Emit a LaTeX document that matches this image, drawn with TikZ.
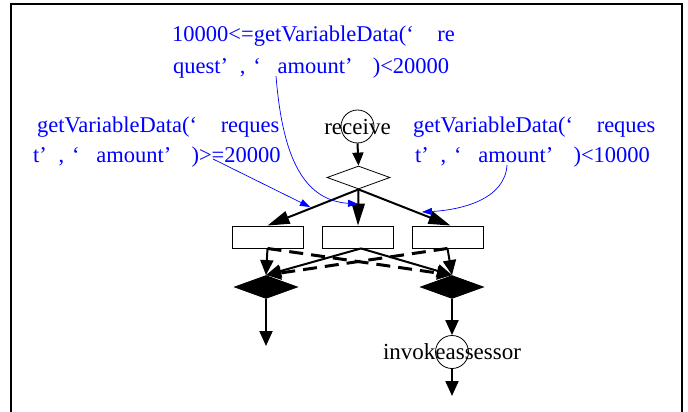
\documentclass[tikz,border=0pt]{standalone}
\usepackage{fontspec}
\setmainfont{Liberation Serif}
\usetikzlibrary{arrows.meta,shapes.geometric,calc}
\newcommand\qLgap{‘\hspace{1.05em}}
\newcommand\qmid{’\hspace{0.52em},\hspace{0.35em}‘\hspace{0.74em}}
\newcommand\qRgap{’\hspace{0.9em}}
\begin{document}
\begin{tikzpicture}[x=1pt,y=-1pt,
  gwopen/.style={diamond, draw, line width=0.8pt, minimum width=63pt, minimum height=23pt, inner sep=0pt},
  gwfill/.style={diamond, draw, fill=black, line width=0.8pt, minimum width=63pt, minimum height=23pt, inner sep=0pt},
  taskbox/.style={rectangle, draw, line width=0.9pt, minimum width=71pt, minimum height=22pt, inner sep=0pt},
  evt/.style={circle, draw, line width=0.8pt, minimum size=33pt, inner sep=0pt},
  evtxt/.style={inner sep=0pt, font=\fontsize{23}{27}\selectfont},
  flow/.style={line width=2pt, -{Triangle[length=15pt,width=13pt]}},
  longflow/.style={line width=2pt, -{Triangle[length=22pt,width=13pt]}},
  dflow/.style={line width=3pt, dash pattern=on 14pt off 8pt, -{Triangle[length=15pt,width=13pt]}},
  ann/.style={blue, line width=0.7pt, -{Triangle[length=10pt,width=7pt]}},
  lbl/.style={blue, anchor=base west, inner sep=0pt, font=\fontsize{22.5}{27}\selectfont}]
\useasboundingbox (0,0) rectangle (688,412);
\draw[line width=2pt] (11,4.5) rectangle (682,440);

% events and gateways
\node[evt] (recv) at (357.5,126.5) {};
\node[evtxt] (recvt) at (recv) {receive};
\node[gwopen] (g1) at (358.5,177.5) {};
\node[taskbox] (t1) at (267.5,237) {};
\node[taskbox] (t2) at (358,237) {};
\node[taskbox] (t3) at (447.5,237) {};
\node[gwfill] (g2) at (266,287) {};
\node[gwfill] (g3) at (452,287) {};
\node[evt] (inv) at (452,352) {};
\node[evtxt] (invt) at (inv) {invokeassessor};
\coordinate (endL) at (266,346);
\coordinate (endR) at (452,396);

% flows
\draw[flow,-{Triangle[length=13pt,width=11pt]}] (recv.south) -- (g1.north);
\draw[longflow] (g1.south) -- (t1.north);
\draw[longflow] (g1.south) -- (t2.north);
\draw[longflow] (g1.south) -- ($(t3.north)+(3,0)$);
\draw[flow] (t1.south) -- (g2.north);
\draw[flow] (t3.south) -- (g3.north);
\draw[flow] ($(t2.south)+(3,0)$) -- (g2.north);
\draw[flow] ($(t2.south)+(3,0)$) -- (g3.north);
\draw[dflow] (t1.south) -- (g3.north);
\draw[dflow] (t3.south) -- (g2.north);
\draw[flow] (g2.south) -- (endL);
\draw[flow] (g3.south) -- (inv.north);
\draw[flow] (inv.south) -- (endR);

% annotations
\node[lbl] (a1) at (172,42) {10000<=getVariableData(\qLgap re};
\node[lbl] (a2) at (173,74) {quest\qmid amount\qRgap)<20000};
\node[lbl] (b1) at (37,132) {getVariableData(\qLgap reques};
\node[lbl] (b2) at (33,162) {t\qmid amount\qRgap)>=20000};
\node[lbl] (c1) at (413,132) {getVariableData(\qLgap reques};
\node[lbl] (c2) at (415,162) {t\qmid amount\qRgap)<10000};

\coordinate (pa) at (276,76);
\coordinate (pb) at (213,159);
\coordinate (pc) at (507,165);
\coordinate (ha) at (358,204);
\coordinate (hb) at (310,207);
\coordinate (hc) at (422,212);
\draw[ann] (pa) .. controls (282,150) and (300,200) .. (ha);
\draw[ann] (pb) -- (hb);
\draw[ann] (pc) .. controls (505,200) and (460,210) .. (hc);
\end{tikzpicture}
\end{document}
